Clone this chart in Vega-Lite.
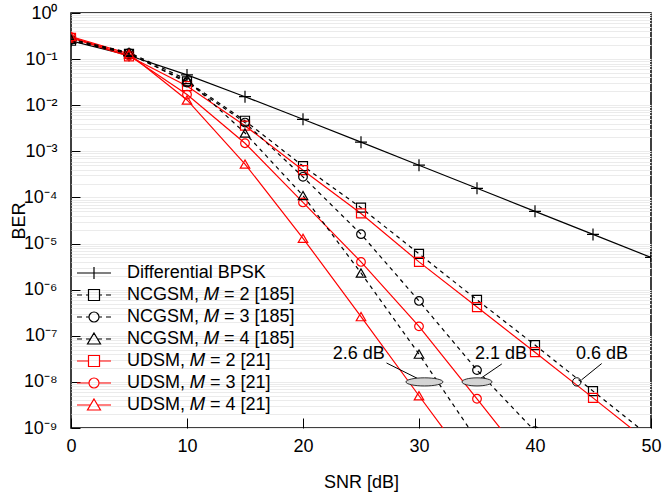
{
  "$schema": "https://vega.github.io/schema/vega-lite/v6.json",
  "width": 580,
  "height": 415,
  "autosize": {"type": "none"},
  "padding": {"left": 71, "top": 13, "right": 12, "bottom": 69},
  "background": "white",
  "config": {
    "font": "Liberation Sans",
    "view": {"stroke": "black", "strokeWidth": 1.5},
    "axis": {"labelFont": "Liberation Sans", "titleFont": "Liberation Sans", "labelFontSize": 18, "titleFontSize": 18, "titleFontWeight": "normal", "labelColor": "black", "titleColor": "black", "tickColor": "black", "tickWidth": 1, "domain": false},
    "legend": {"title": null, "orient": "none", "legendX": 12, "legendY": 249, "padding": 0, "labelFontSize": 18, "labelFont": "Liberation Sans", "labelColor": "black", "labelLimit": 400, "symbolSize": 400, "labelOffset": 22, "rowPadding": 2, "symbolStrokeWidth": 1.2}
  },
  "datasets": {
    "ber": [
      {"s": "Differential BPSK", "snr": 0, "ber": 0.25},
      {"s": "Differential BPSK", "snr": 5, "ber": 0.12},
      {"s": "Differential BPSK", "snr": 10, "ber": 0.0455},
      {"s": "Differential BPSK", "snr": 15, "ber": 0.0153},
      {"s": "Differential BPSK", "snr": 20, "ber": 0.00495},
      {"s": "Differential BPSK", "snr": 25, "ber": 0.00158},
      {"s": "Differential BPSK", "snr": 30, "ber": 0.0005},
      {"s": "Differential BPSK", "snr": 35, "ber": 0.000158},
      {"s": "Differential BPSK", "snr": 40, "ber": 0.00005},
      {"s": "Differential BPSK", "snr": 45, "ber": 0.0000158},
      {"s": "Differential BPSK", "snr": 50, "ber": 0.000005},
      {"s": "NCGSM, 𝑀 = 2 [185]", "snr": 0, "ber": 0.25},
      {"s": "NCGSM, 𝑀 = 2 [185]", "snr": 5, "ber": 0.13},
      {"s": "NCGSM, 𝑀 = 2 [185]", "snr": 10, "ber": 0.033},
      {"s": "NCGSM, 𝑀 = 2 [185]", "snr": 15, "ber": 0.0046},
      {"s": "NCGSM, 𝑀 = 2 [185]", "snr": 20, "ber": 0.00048},
      {"s": "NCGSM, 𝑀 = 2 [185]", "snr": 25, "ber": 0.00006},
      {"s": "NCGSM, 𝑀 = 2 [185]", "snr": 30, "ber": 0.000006},
      {"s": "NCGSM, 𝑀 = 2 [185]", "snr": 35, "ber": 6e-7},
      {"s": "NCGSM, 𝑀 = 2 [185]", "snr": 40, "ber": 6.3e-8},
      {"s": "NCGSM, 𝑀 = 2 [185]", "snr": 45, "ber": 6.3e-9},
      {"s": "NCGSM, 𝑀 = 2 [185]", "snr": 50, "ber": 6.3e-10},
      {"s": "NCGSM, 𝑀 = 3 [185]", "snr": 0, "ber": 0.26},
      {"s": "NCGSM, 𝑀 = 3 [185]", "snr": 5, "ber": 0.135},
      {"s": "NCGSM, 𝑀 = 3 [185]", "snr": 10, "ber": 0.031},
      {"s": "NCGSM, 𝑀 = 3 [185]", "snr": 15, "ber": 0.0042},
      {"s": "NCGSM, 𝑀 = 3 [185]", "snr": 20, "ber": 0.00028},
      {"s": "NCGSM, 𝑀 = 3 [185]", "snr": 25, "ber": 0.000016},
      {"s": "NCGSM, 𝑀 = 3 [185]", "snr": 30, "ber": 5.7e-7},
      {"s": "NCGSM, 𝑀 = 3 [185]", "snr": 35, "ber": 1.8e-8},
      {"s": "NCGSM, 𝑀 = 3 [185]", "snr": 40, "ber": 8.5e-10},
      {"s": "NCGSM, 𝑀 = 4 [185]", "snr": 0, "ber": 0.27},
      {"s": "NCGSM, 𝑀 = 4 [185]", "snr": 5, "ber": 0.14},
      {"s": "NCGSM, 𝑀 = 4 [185]", "snr": 10, "ber": 0.036},
      {"s": "NCGSM, 𝑀 = 4 [185]", "snr": 15, "ber": 0.0025},
      {"s": "NCGSM, 𝑀 = 4 [185]", "snr": 20, "ber": 0.00011},
      {"s": "NCGSM, 𝑀 = 4 [185]", "snr": 25, "ber": 0.0000023},
      {"s": "NCGSM, 𝑀 = 4 [185]", "snr": 30, "ber": 4e-8},
      {"s": "NCGSM, 𝑀 = 4 [185]", "snr": 35, "ber": 5.5e-10},
      {"s": "UDSM, 𝑀 = 2 [21]", "snr": 0, "ber": 0.29},
      {"s": "UDSM, 𝑀 = 2 [21]", "snr": 5, "ber": 0.115},
      {"s": "UDSM, 𝑀 = 2 [21]", "snr": 10, "ber": 0.026},
      {"s": "UDSM, 𝑀 = 2 [21]", "snr": 15, "ber": 0.0036},
      {"s": "UDSM, 𝑀 = 2 [21]", "snr": 20, "ber": 0.00039},
      {"s": "UDSM, 𝑀 = 2 [21]", "snr": 25, "ber": 0.000045},
      {"s": "UDSM, 𝑀 = 2 [21]", "snr": 30, "ber": 0.000004},
      {"s": "UDSM, 𝑀 = 2 [21]", "snr": 35, "ber": 4.2e-7},
      {"s": "UDSM, 𝑀 = 2 [21]", "snr": 40, "ber": 4.4e-8},
      {"s": "UDSM, 𝑀 = 2 [21]", "snr": 45, "ber": 4.5e-9},
      {"s": "UDSM, 𝑀 = 2 [21]", "snr": 50, "ber": 4.5e-10},
      {"s": "UDSM, 𝑀 = 3 [21]", "snr": 0, "ber": 0.3},
      {"s": "UDSM, 𝑀 = 3 [21]", "snr": 5, "ber": 0.12},
      {"s": "UDSM, 𝑀 = 3 [21]", "snr": 10, "ber": 0.017},
      {"s": "UDSM, 𝑀 = 3 [21]", "snr": 15, "ber": 0.0015},
      {"s": "UDSM, 𝑀 = 3 [21]", "snr": 20, "ber": 0.000078},
      {"s": "UDSM, 𝑀 = 3 [21]", "snr": 25, "ber": 0.000004},
      {"s": "UDSM, 𝑀 = 3 [21]", "snr": 30, "ber": 1.6e-7},
      {"s": "UDSM, 𝑀 = 3 [21]", "snr": 35, "ber": 4.3e-9},
      {"s": "UDSM, 𝑀 = 3 [21]", "snr": 40, "ber": 1.1e-10},
      {"s": "UDSM, 𝑀 = 4 [21]", "snr": 0, "ber": 0.31},
      {"s": "UDSM, 𝑀 = 4 [21]", "snr": 5, "ber": 0.13},
      {"s": "UDSM, 𝑀 = 4 [21]", "snr": 10, "ber": 0.013},
      {"s": "UDSM, 𝑀 = 4 [21]", "snr": 15, "ber": 0.00053},
      {"s": "UDSM, 𝑀 = 4 [21]", "snr": 20, "ber": 0.000013},
      {"s": "UDSM, 𝑀 = 4 [21]", "snr": 25, "ber": 2.6e-7},
      {"s": "UDSM, 𝑀 = 4 [21]", "snr": 30, "ber": 5e-9},
      {"s": "UDSM, 𝑀 = 4 [21]", "snr": 35, "ber": 1e-10}
    ],
    "notes": [
      {"gap": "2.6 dB", "tx": 24.8, "ty": 4e-8, "lx1": 27.2, "ly1": 2.57e-8, "lx2": 30.4, "ly2": 1.02e-8, "mx": 30.47, "my": 1e-8},
      {"gap": "2.1 dB", "tx": 37.07, "ty": 4e-8, "lx1": 37.14, "ly1": 2.45e-8, "lx2": 34.97, "ly2": 1.04e-8, "mx": 35.0, "my": 1e-8},
      {"gap": "0.6 dB", "tx": 45.78, "ty": 4e-8, "lx1": 45.75, "ly1": 2.5e-8, "lx2": 44.0, "ly2": 1.1e-8, "mx": 43.6, "my": 1e-8}
    ]
  },
  "encoding": {
    "x": {"field": "snr", "type": "quantitative", "scale": {"domain": [0, 50], "nice": false},
      "axis": {"values": [0, 10, 20, 30, 40, 50], "grid": false, "offset": -10, "tickSize": 10, "labelPadding": 9, "title": "SNR [dB]", "titlePadding": 18, "labelFlush": false}},
    "y": {"field": "ber", "type": "quantitative", "scale": {"type": "log", "domain": [1e-9, 1], "nice": false},
      "axis": {"tickCount": 100, "grid": true, "gridColor": "#ebebeb", "gridWidth": 1, "offset": -9, "tickSize": 9, "labelPadding": 14, "title": "BER", "titlePadding": -5,
        "tickOpacity": {"condition": {"test": "abs(log(datum.value)/LN10 - round(log(datum.value)/LN10)) < 0.000001", "value": 1}, "value": 0},
        "labelExpr": "abs(log(datum.value)/LN10 - round(log(datum.value)/LN10)) < 0.000001 ? '10' + ['⁰','⁻¹','⁻²','⁻³','⁻⁴','⁻⁵','⁻⁶','⁻⁷','⁻⁸','⁻⁹'][round(-log(datum.value)/LN10)] : ''"}},
    "color": {"field": "s", "type": "nominal",
      "scale": {"domain": ["Differential BPSK", "NCGSM, 𝑀 = 2 [185]", "NCGSM, 𝑀 = 3 [185]", "NCGSM, 𝑀 = 4 [185]", "UDSM, 𝑀 = 2 [21]", "UDSM, 𝑀 = 3 [21]", "UDSM, 𝑀 = 4 [21]"],
        "range": ["black", "black", "black", "black", "#ff0000", "#ff0000", "#ff0000"]}}
  },
  "layer": [
    {
      "data": {"name": "ber"},
      "transform": [{"filter": "indexof(datum.s, 'NCGSM') < 0"}],
      "mark": {"type": "line", "strokeWidth": 1.2, "clip": true}
    },
    {
      "data": {"name": "ber"},
      "transform": [{"filter": "indexof(datum.s, 'NCGSM') >= 0"}],
      "mark": {"type": "line", "strokeWidth": 1.2, "strokeDash": [4, 4], "clip": true}
    },
    {
      "data": {"name": "ber"},
      "transform": [{"filter": "datum.s == 'Differential BPSK'"}],
      "mark": {"type": "point", "filled": false, "size": 81, "strokeWidth": 1.2, "opacity": 1, "clip": true, "shape": "M-1.33,0H1.33M0,-1.33V1.33"}
    },
    {
      "data": {"name": "ber"},
      "transform": [{"filter": "indexof(datum.s, '= 2') >= 0"}],
      "mark": {"type": "point", "filled": false, "size": 81, "strokeWidth": 1.2, "opacity": 1, "clip": true, "shape": "square"}
    },
    {
      "data": {"name": "ber"},
      "transform": [{"filter": "indexof(datum.s, '= 3') >= 0"}],
      "mark": {"type": "point", "filled": false, "size": 75, "strokeWidth": 1.2, "opacity": 1, "clip": true, "shape": "circle"}
    },
    {
      "data": {"name": "ber"},
      "transform": [{"filter": "indexof(datum.s, '= 4') >= 0"}],
      "mark": {"type": "point", "filled": false, "size": 90, "strokeWidth": 1.2, "opacity": 1, "clip": true, "shape": "triangle-up"}
    },
    {
      "data": {"name": "ber"},
      "transform": [{"filter": "datum.snr < -100"}],
      "mark": {"type": "point", "filled": false, "strokeWidth": 1.2, "opacity": 1, "clip": true},
      "encoding": {
        "shape": {"field": "s", "type": "nominal",
          "scale": {"domain": ["Differential BPSK", "NCGSM, 𝑀 = 2 [185]", "NCGSM, 𝑀 = 3 [185]", "NCGSM, 𝑀 = 4 [185]", "UDSM, 𝑀 = 2 [21]", "UDSM, 𝑀 = 3 [21]", "UDSM, 𝑀 = 4 [21]"],
            "range": ["M-1.7,0H1.7M0,-0.6V0.6", "M-1.7,0H-1.2M-0.8,0H-0.55M0.55,0H0.8M1.2,0H1.7M-0.55,-0.55H0.55V0.55H-0.55Z", "M-1.7,0H-1.2M-0.8,0H-0.5M0.5,0H0.8M1.2,0H1.7M0.5,0A0.5,0.5 0 1,1 -0.5,0A0.5,0.5 0 1,1 0.5,0", "M-1.7,0H-1.2M-0.8,0H-0.35M0.35,0H0.8M1.2,0H1.7M0,-0.6L0.65,0.5H-0.65Z", "M-1.7,0H-0.55M0.55,0H1.7M-0.55,-0.55H0.55V0.55H-0.55Z", "M-1.7,0H-0.5M0.5,0H1.7M0.5,0A0.5,0.5 0 1,1 -0.5,0A0.5,0.5 0 1,1 0.5,0", "M-1.7,0H-0.35M0.35,0H1.7M0,-0.6L0.65,0.5H-0.65Z"]}}
      }
    },
    {
      "data": {"name": "notes"},
      "mark": {"type": "rule", "strokeWidth": 1},
      "encoding": {
        "x": {"field": "lx1", "type": "quantitative"},
        "y": {"field": "ly1", "type": "quantitative"},
        "x2": {"field": "lx2"},
        "y2": {"field": "ly2"},
        "color": {"value": "black"}
      }
    },
    {
      "data": {"name": "notes"},
      "transform": [{"filter": "datum.gap == '2.6 dB'"}],
      "mark": {"type": "point", "filled": true, "fill": "#d4d4d4", "stroke": "black", "strokeWidth": 0.8, "opacity": 1, "size": 1369, "shape": "M-1,0A1,0.22 0 1,0 1,0A1,0.22 0 1,0 -1,0Z"},
      "encoding": {
        "x": {"field": "mx", "type": "quantitative"},
        "y": {"field": "my", "type": "quantitative"},
        "color": {"value": "#d4d4d4"}
      }
    },
    {
      "data": {"name": "notes"},
      "transform": [{"filter": "datum.gap == '2.1 dB'"}],
      "mark": {"type": "point", "filled": true, "fill": "#d4d4d4", "stroke": "black", "strokeWidth": 0.8, "opacity": 1, "size": 900, "shape": "M-1,0A1,0.27 0 1,0 1,0A1,0.27 0 1,0 -1,0Z"},
      "encoding": {
        "x": {"field": "mx", "type": "quantitative"},
        "y": {"field": "my", "type": "quantitative"},
        "color": {"value": "#d4d4d4"}
      }
    },
    {
      "data": {"name": "notes"},
      "transform": [{"filter": "datum.gap == '0.6 dB'"}],
      "mark": {"type": "point", "filled": false, "strokeWidth": 1, "opacity": 1, "size": 70, "shape": "circle"},
      "encoding": {
        "x": {"field": "mx", "type": "quantitative"},
        "y": {"field": "my", "type": "quantitative"},
        "color": {"value": "black"}
      }
    },
    {
      "data": {"name": "notes"},
      "mark": {"type": "text", "fontSize": 18, "font": "Liberation Sans", "align": "center", "baseline": "middle"},
      "encoding": {
        "x": {"field": "tx", "type": "quantitative"},
        "y": {"field": "ty", "type": "quantitative"},
        "text": {"field": "gap"},
        "color": {"value": "black"}
      }
    }
  ]
}
